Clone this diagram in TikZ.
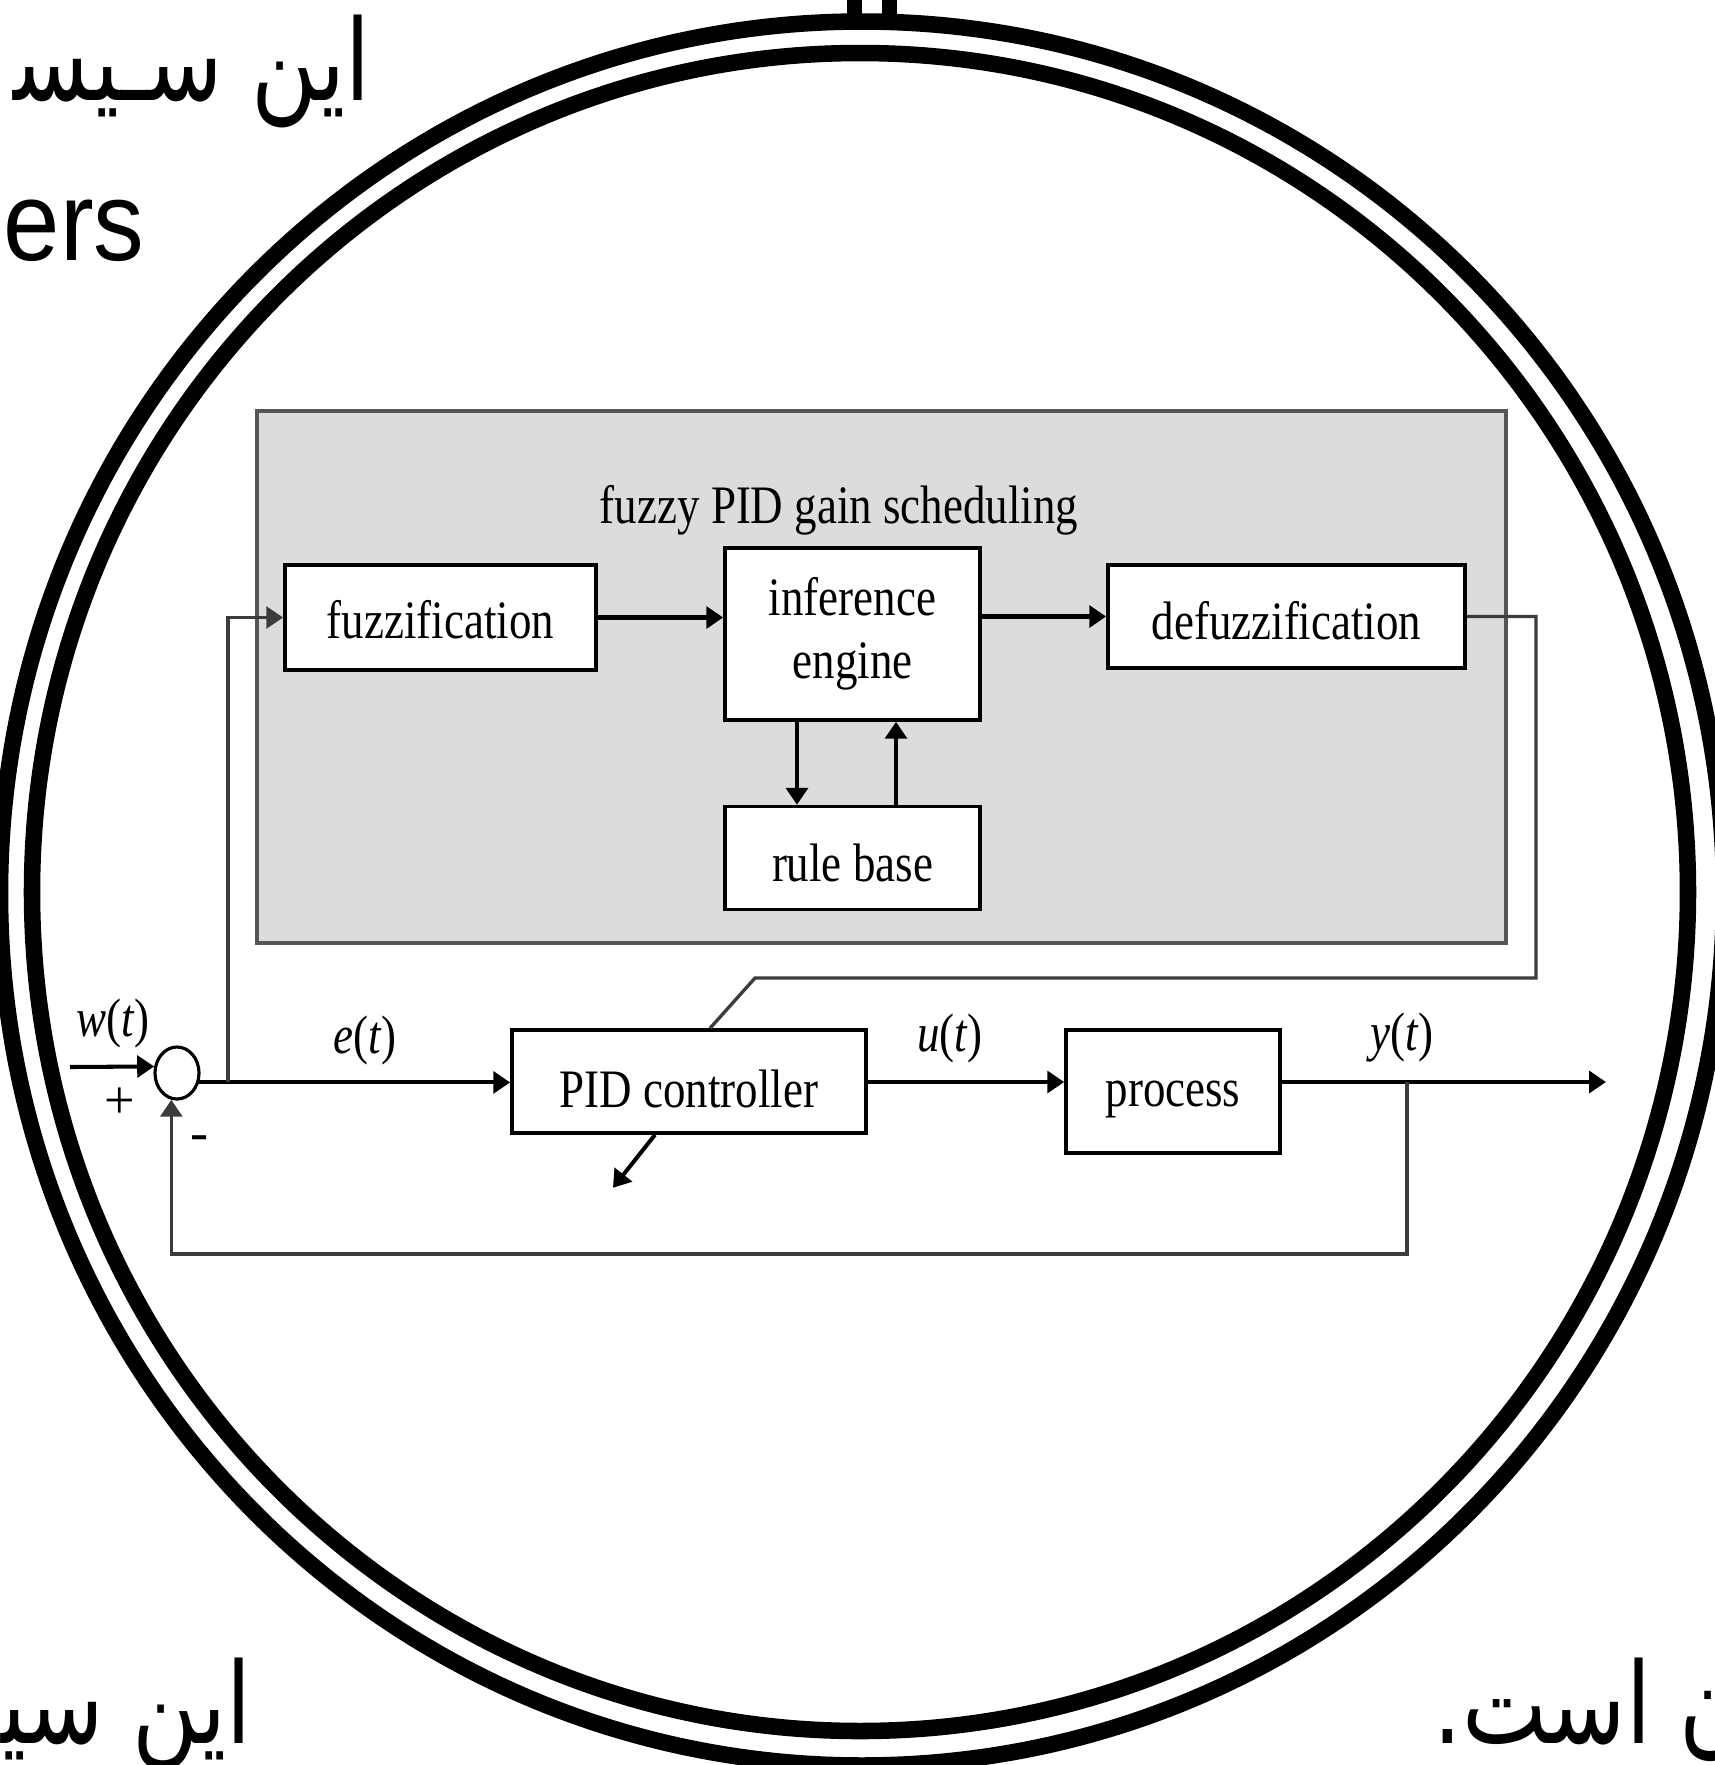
\documentclass[tikz,border=0pt]{standalone}
\usepackage{fontspec}
\setmainfont{Liberation Serif}
\newfontfamily\slidefont{Liberation Sans}
\newfontfamily\arabicfont[Script=Arabic]{DejaVu Sans}
\TeXXeTstate=1
\usetikzlibrary{arrows.meta, shapes.geometric}
\definecolor{schedgray}{RGB}{220,220,220}
\definecolor{framegray}{RGB}{85,85,85}
\definecolor{wiregray}{RGB}{60,60,60}
\newcommand{\narrowtext}[1]{\scalebox{0.83}[1]{#1}}
\newcommand{\slidearabic}[1]{\scalebox{0.8}[1]{\beginR #1\endR}}

\tikzset{
	lbl/.style={font=\fontsize{15.4}{18}\selectfont, inner sep=0pt},
	block/.style={lbl, draw, line width=1pt, fill=white},
	tip/.style={-{Triangle[length=4.8pt,width=6.2pt]}},
	sig/.style={tip, line width=1.15pt},
	wire/.style={line width=0.95pt, draw=wiregray},
	ring/.style={line width=4.7pt},
	slidetext/.style={font=#1\fontsize{32}{38}\selectfont, inner sep=0pt}
}

\begin{document}
\begin{tikzpicture}[x=0.01cm, y=-0.01cm]
	\useasboundingbox (0,0) rectangle (1715,1765);
	
	% slide behind the diagram
	\draw[ring] (860,892) ellipse [x radius=828, y radius=839];
	\draw[ring] (862,893.5) ellipse [x radius=862, y radius=872];
	\fill (847,-5) rectangle (862,20);
	\fill (882,-5) rectangle (897,20);
	
	\node[slidetext=\arabicfont, anchor=base east] (arTop) at (371,100) {\slidearabic{این سـیس^^^^200d}};
	\node[slidetext=\slidefont, anchor=base west] (enTop) at (3,260) {\scalebox{0.9}[1]{ers}};
	\node[slidetext=\arabicfont, anchor=base east] (arLeft) at (252,1743) {\slidearabic{این سی^^^^200d}};
	\node[slidetext=\arabicfont, anchor=base west] (arRight) at (1433,1743) {\slidearabic{ن است.}};
	
	% gain scheduler
	\draw[line width=1pt, draw=framegray, fill=schedgray] (257,411) rectangle (1506,943);
	\node[lbl, anchor=base] (title) at (839,523) {\narrowtext{fuzzy PID gain scheduling}};
	
	\node[block, minimum width=3.11cm, minimum height=1.05cm, text height=12.2pt, text depth=0pt] (fuzz) at (440.5,617.5) {\narrowtext{fuzzification}};
	\node[block, minimum width=2.55cm, minimum height=1.72cm, align=center] (infer) at (852.5,634) {\narrowtext{inference}\\\narrowtext{engine}};
	\node[block, minimum width=3.57cm, minimum height=1.03cm, text height=12.8pt, text depth=0pt] (defuzz) at (1286.5,616.5) {\narrowtext{defuzzification}};
	\node[block, minimum width=2.55cm, minimum height=1.03cm, text height=13.6pt, text depth=0pt] (rule) at (852.5,858) {\narrowtext{rule base}};
	
	% control loop
	\node[block, minimum width=3.54cm, minimum height=1.03cm, text height=14.6pt, text depth=0pt] (pid) at (689,1081.5) {\narrowtext{PID controller}};
	\node[block, minimum width=2.14cm, minimum height=1.23cm, text height=10pt, text depth=1.2pt] (proc) at (1173,1091.5) {\narrowtext{process}};
	\node[draw, ellipse, line width=0.9pt, minimum width=0.44cm, minimum height=0.52cm, inner sep=0pt] (sum) at (177,1073) {};
	
	\coordinate (win) at (70,1067);
	\coordinate (etap) at (228,1082);
	\coordinate (ytap) at (1407,1082);
	\coordinate (yout) at (1606,1082);
	\coordinate (fbk) at (1407,1254);
	\coordinate (dcorner) at (1536,978);
	\coordinate (gknee) at (755,978);
	
	\draw[sig] (win) -- (sum.164);
	\draw[sig] (sum.-23) -- (sum.-23 -| pid.west);
	\draw[sig] (pid.east |- yout) -- (proc.west |- yout);
	\draw[sig] (proc.east |- yout) -- (yout);
	\draw[wire, tip] (ytap) -- (fbk) -| (sum.-102);
	\draw[wire, tip] (etap) |- (fuzz.west);
	
	\draw[sig] (fuzz.east) -- (fuzz.east -| infer.west);
	\draw[sig] (defuzz.west -| infer.east) -- (defuzz.west);
	\draw[sig] ([xshift=-0.555cm]infer.south) -- ([xshift=-0.555cm]rule.north);
	\draw[sig] ([xshift=0.435cm]rule.north) -- ([xshift=0.435cm]infer.south);
	\draw[wire] (defuzz.east) -| (dcorner) -- (gknee) -- ([xshift=0.21cm]pid.north);
	\draw[sig] ([xshift=-0.34cm]pid.south) -- ++(-42,53);
	
	\node[lbl, anchor=base] (wlbl) at (113,1036) {\narrowtext{\textit{w}(\textit{t})}};
	\node[lbl, anchor=base] (elbl) at (365,1053) {\narrowtext{\textit{e}(\textit{t})}};
	\node[lbl, anchor=base] (ulbl) at (950,1051) {\narrowtext{\textit{u}(\textit{t})}};
	\node[lbl, anchor=base] (ylbl) at (1402,1050) {\narrowtext{\textit{y}(\textit{t})}};
	\node[lbl] (plus) at (120,1103) {+};
	\node[lbl] (minus) at (200,1143) {-};
\end{tikzpicture}
\end{document}
